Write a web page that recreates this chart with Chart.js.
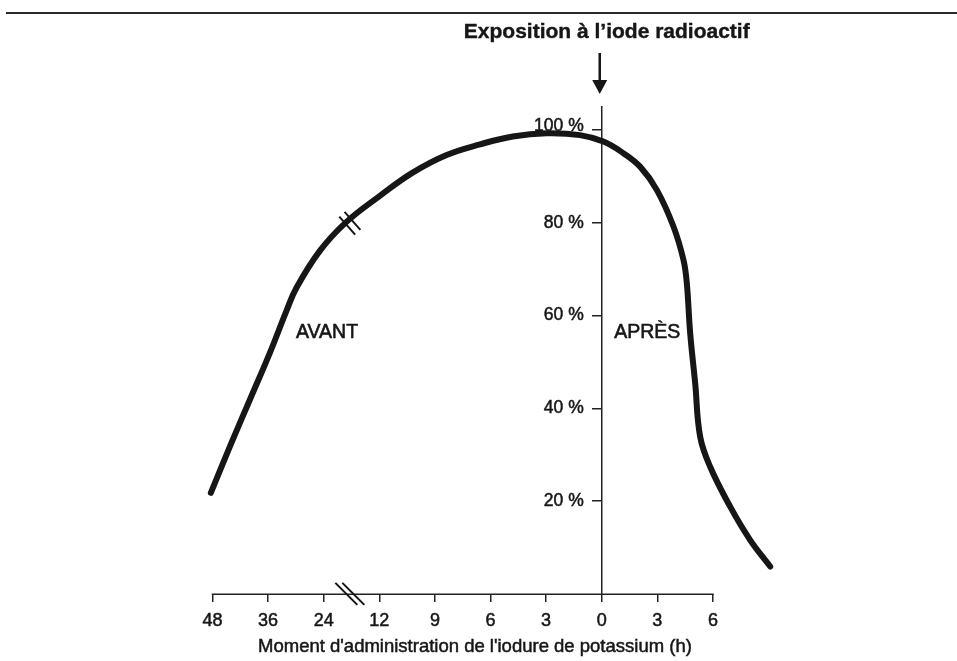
<!DOCTYPE html>
<html><head><meta charset="utf-8">
<script src="https://cdn.jsdelivr.net/npm/chart.js@4.4.1/dist/chart.umd.min.js"></script>
<style>html,body{margin:0;padding:0;background:#fff}#wrap{width:957px;height:661px;position:relative}</style>
</head><body><div id="wrap"><canvas id="c" width="957" height="661"></canvas></div>
<script>
// Category tick labels (hours) placed at evenly spaced positions 0..9
const tickLabels = ['48', '36', '24', '12', '9', '6', '3', '0', '3', '6'];
// Curve: position along the hour axis (index units) and protection (%)
const curveX = [-0.03, 0.31, 0.67, 1.03, 1.33, 1.51, 1.94, 2.41, 3.01, 3.60, 4.21, 4.81, 5.40, 6.01, 6.61, 7.03, 7.39, 7.69, 7.99, 8.29, 8.47, 8.53, 8.59, 8.68, 8.77, 8.95, 9.31, 9.67, 10.03];
const curveY = [21.8, 31.7, 41.8, 51.9, 61.0, 66.0, 74.1, 80.2, 85.8, 90.8, 94.6, 96.9, 98.6, 99.3, 98.9, 97.5, 95.0, 92.1, 87.1, 79.2, 72.0, 67.0, 56.3, 45.5, 33.9, 27.4, 18.8, 11.6, 5.9];
const yTickValues = [20, 40, 60, 80, 100];
const titleText = 'Exposition à l’iode radioactif';
const xTitleText = "Moment d'administration de l'iodure de potassium (h)";
const phaseLabels = ['AVANT', 'APRÈS'];

const INK = '#161616';
const AXIS = '#222';
const FONT = '"Liberation Sans", Arial, Helvetica, sans-serif';

function text(ctx, t, x, y) {
  ctx.strokeText(t, x, y);
  ctx.fillText(t, x, y);
}

const decor = {
  id: 'decor',
  beforeDatasetsDraw(chart, args, opts) {
    const ctx = chart.ctx;
    const xs = chart.scales.x, ys = chart.scales.y;
    const y0 = Math.round(ys.getPixelForValue(0)) + 0.25;
    ctx.save();
    ctx.strokeStyle = AXIS;
    ctx.lineWidth = 1.5;
    ctx.beginPath();
    ctx.moveTo(xs.getPixelForValue(0) - 0.75, y0);
    ctx.lineTo(xs.getPixelForValue(tickLabels.length - 1) + 0.75, y0);
    ctx.stroke();
    // y tick labels, left of the axis drawn at x = exposure index
    const ax = xs.getPixelForValue(opts.exposureIndex);
    ctx.fillStyle = INK;
    ctx.strokeStyle = INK;
    ctx.lineWidth = 0.5;
    ctx.font = '17.5px ' + FONT;
    ctx.textAlign = 'right';
    ctx.textBaseline = 'middle';
    yTickValues.forEach(v => {
      text(ctx, v + ' %', ax - 18, ys.getPixelForValue(v) + (v === 100 ? -4 : 0));
    });
    // x axis title
    ctx.textAlign = 'center';
    ctx.font = '18.5px ' + FONT;
    text(ctx, xTitleText, xs.getPixelForValue(opts.xTitleIndex), y0 + 53);
    ctx.restore();
  },
  afterDraw(chart, args, opts) {
    const ctx = chart.ctx;
    const xs = chart.scales.x, ys = chart.scales.y;
    ctx.save();
    // top rule
    ctx.strokeStyle = '#2a2a2a';
    ctx.lineWidth = 2;
    ctx.beginPath(); ctx.moveTo(6, 13); ctx.lineTo(957, 13); ctx.stroke();
    // title
    const ax = xs.getPixelForValue(opts.exposureIndex);
    ctx.fillStyle = INK;
    ctx.strokeStyle = INK;
    ctx.lineWidth = 0.4;
    ctx.font = 'bold 21px ' + FONT;
    ctx.textAlign = 'center';
    ctx.textBaseline = 'middle';
    text(ctx, titleText, ax + 5, 32);
    // arrow
    ctx.lineWidth = 2.5;
    ctx.beginPath(); ctx.moveTo(ax - 2, 53); ctx.lineTo(ax - 2, 82); ctx.stroke();
    ctx.beginPath();
    ctx.moveTo(ax - 9.5, 80); ctx.lineTo(ax + 5.5, 80); ctx.lineTo(ax - 2, 94); ctx.closePath();
    ctx.fill();
    // phase labels
    ctx.lineWidth = 0.6;
    ctx.font = '19.5px ' + FONT;
    phaseLabels.forEach((t, i) => {
      text(ctx, t, xs.getPixelForValue(opts.phaseX[i]), ys.getPixelForValue(opts.phaseY));
    });
    // axis break
    const bx = xs.getPixelForValue(opts.breakIndex);
    const by = ys.getPixelForValue(0);
    ctx.lineWidth = 2;
    [-3.5, 3.5].forEach(d => {
      ctx.beginPath();
      ctx.moveTo(bx + d - 11, by - 11);
      ctx.lineTo(bx + d + 11, by + 11);
      ctx.stroke();
    });
    // curve break
    const cx = xs.getPixelForValue(opts.breakIndex);
    const cy = ys.getPixelForValue(opts.breakCurveY);
    const tx = 0.75, ty = -0.66, px = 0.66, py = 0.75;
    [-3.5, 3.5].forEach(d => {
      ctx.beginPath();
      ctx.moveTo(cx + tx * d - px * 12, cy + ty * d - py * 12);
      ctx.lineTo(cx + tx * d + px * 12, cy + ty * d + py * 12);
      ctx.stroke();
    });
    ctx.restore();
  }
};

new Chart(document.getElementById('c'), {
  type: 'line',
  data: {
    datasets: [{
      data: curveX.map((x, i) => ({ x, y: curveY[i] })),
      borderColor: INK,
      borderWidth: 6,
      pointRadius: 0,
      tension: 0.4,
      fill: false,
      clip: false,
      borderCapStyle: 'round',
      borderJoinStyle: 'round'
    }]
  },
  options: {
    responsive: false,
    animation: false,
    events: [],
    layout: { padding: { left: 212.5, right: 182.9, top: 106.8, bottom: 21.5 } },
    plugins: {
      legend: { display: false },
      tooltip: { enabled: false },
      title: { display: false },
      decor: { exposureIndex: 7, xTitleIndex: 4.72, phaseX: [2.06, 7.82], phaseY: 56.3, breakIndex: 2.47, breakCurveY: 79.9 }
    },
    scales: {
      x: {
        type: 'linear', position: 'bottom', min: 0, max: 10.1,
        afterBuildTicks: s => { s.ticks = tickLabels.map((_, i) => ({ value: i })); },
        ticks: { callback: v => tickLabels[v], color: INK, textStrokeColor: INK, textStrokeWidth: 0.5, font: { family: FONT, size: 18 }, padding: 8, maxRotation: 0, autoSkip: false },
        grid: { drawOnChartArea: false, drawTicks: true, tickLength: 8, color: AXIS, lineWidth: 1.5 },
        border: { display: false },
        title: { display: false }
      },
      y: {
        type: 'linear', position: { x: 7 }, min: 0, max: 105,
        afterBuildTicks: s => { s.ticks = yTickValues.map(v => ({ value: v })); },
        ticks: { display: false },
        grid: { drawOnChartArea: false, drawTicks: true, tickLength: 9, color: AXIS, lineWidth: 1.5 },
        border: { display: true, color: AXIS, width: 1.5 }
      }
    }
  },
  plugins: [decor]
});
</script>
</body></html>
